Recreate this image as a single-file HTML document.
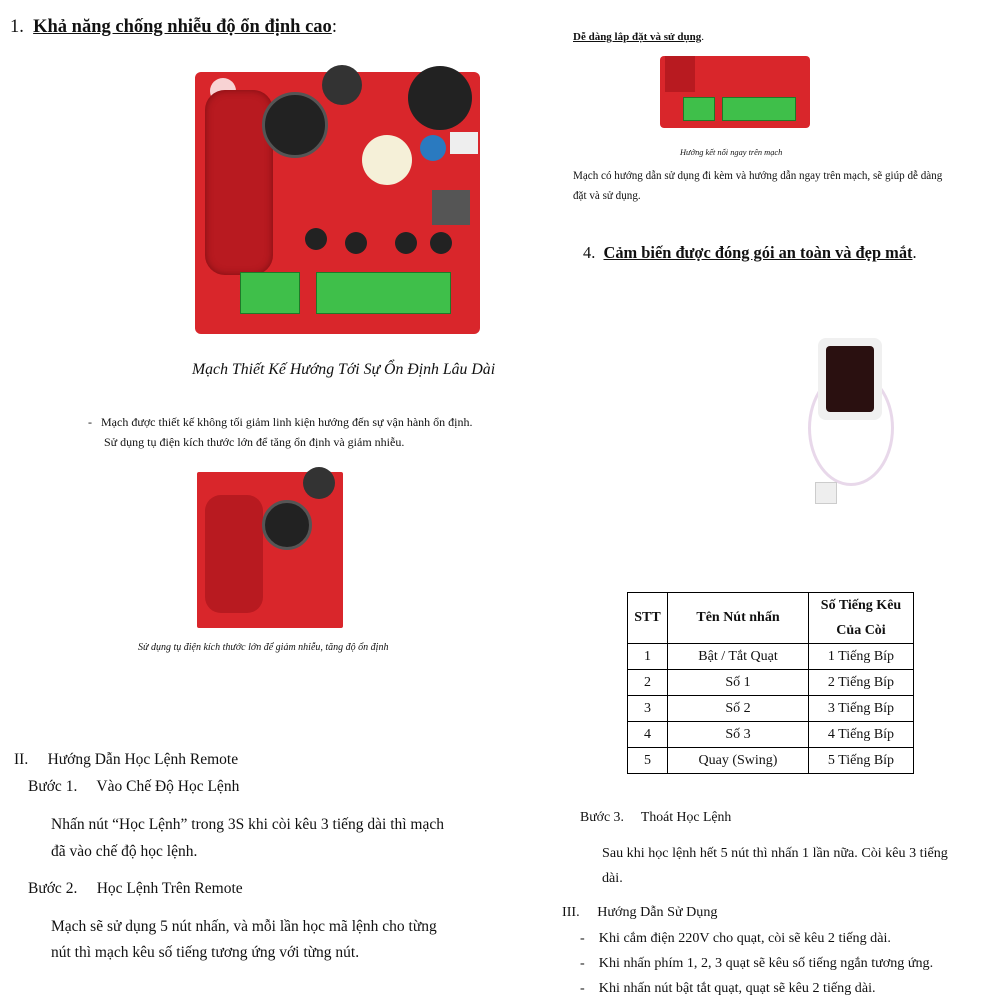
<!DOCTYPE html>
<html><head><meta charset="utf-8"><style>
body{margin:0;width:1000px;height:1000px;background:#fff;position:relative;overflow:hidden;font-family:"Liberation Serif",serif;color:#111}
.t{position:absolute;white-space:nowrap}
.board{position:absolute;background:#d9262b;border-radius:6px}
.g{position:absolute;background:#3fbf4a;border:1px solid #1e7a28}
.c{position:absolute;border-radius:50%}
table{position:absolute;left:627px;top:592px;border-collapse:collapse;font-size:14px}
td{border:1px solid #000;text-align:center;padding:0}
</style></head><body>
<div class="t" style="left:10px;top:17px;font-size:18.5px">1.&nbsp; <b><u>Khả năng chống nhiễu độ ổn định cao</u></b>:</div>

<div class="board" style="left:195px;top:72px;width:285px;height:262px"></div>
<div class="c" style="left:210px;top:78px;width:26px;height:26px;background:#fff;opacity:.8"></div>
<div style="position:absolute;left:205px;top:90px;width:68px;height:185px;background:#b81a20;border-radius:20px;box-shadow:inset 0 0 8px #7a0e12"></div>
<div class="c" style="left:262px;top:92px;width:60px;height:60px;background:#222;border:3px solid #555"></div>
<div class="c" style="left:322px;top:65px;width:40px;height:40px;background:#333"></div>
<div class="c" style="left:408px;top:66px;width:64px;height:64px;background:#222"></div>
<div class="c" style="left:362px;top:135px;width:50px;height:50px;background:#f5f0d8"></div>
<div class="c" style="left:420px;top:135px;width:26px;height:26px;background:#2a7ac0"></div>
<div style="position:absolute;left:450px;top:132px;width:28px;height:22px;background:#eee"></div>
<div style="position:absolute;left:432px;top:190px;width:38px;height:35px;background:#555"></div>
<div class="c" style="left:305px;top:228px;width:22px;height:22px;background:#222"></div>
<div class="c" style="left:345px;top:232px;width:22px;height:22px;background:#222"></div>
<div class="c" style="left:395px;top:232px;width:22px;height:22px;background:#222"></div>
<div class="c" style="left:430px;top:232px;width:22px;height:22px;background:#222"></div>
<div class="g" style="left:240px;top:272px;width:58px;height:40px"></div>
<div class="g" style="left:316px;top:272px;width:133px;height:40px"></div>

<div class="t" style="left:192px;top:361px;font-size:15.8px;font-style:italic">Mạch Thiết Kế Hướng Tới Sự Ổn Định Lâu Dài</div>
<div class="t" style="left:88px;top:415px;font-size:12px">-&nbsp;&nbsp; Mạch được thiết kế không tối giảm linh kiện hướng đến sự vận hành ổn định.</div>
<div class="t" style="left:104px;top:435px;font-size:12px">Sử dụng tụ điện kích thước lớn để tăng ổn định và giảm nhiễu.</div>

<div class="board" style="left:197px;top:472px;width:146px;height:156px;border-radius:2px"></div>
<div style="position:absolute;left:205px;top:495px;width:58px;height:118px;background:#b81a20;border-radius:16px"></div>
<div class="c" style="left:262px;top:500px;width:44px;height:44px;background:#222;border:3px solid #555"></div>
<div class="c" style="left:303px;top:467px;width:32px;height:32px;background:#333"></div>
<div class="t" style="left:138px;top:642px;font-size:10px;font-style:italic">Sử dụng tụ điện kích thước lớn để giảm nhiễu, tăng độ ổn định</div>

<div class="t" style="left:14px;top:751px;font-size:15.5px">II.&nbsp;&nbsp;&nbsp;&nbsp; Hướng Dẫn Học Lệnh Remote</div>
<div class="t" style="left:28px;top:778px;font-size:15.5px">Bước 1.&nbsp;&nbsp;&nbsp;&nbsp; Vào Chế Độ Học Lệnh</div>
<div class="t" style="left:51px;top:816px;font-size:15.5px">Nhấn nút “Học Lệnh” trong 3S khi còi kêu 3 tiếng dài thì mạch</div>
<div class="t" style="left:51px;top:843px;font-size:15.5px">đã vào chế độ học lệnh.</div>
<div class="t" style="left:28px;top:880px;font-size:15.5px">Bước 2.&nbsp;&nbsp;&nbsp;&nbsp; Học Lệnh Trên Remote</div>
<div class="t" style="left:51px;top:918px;font-size:15.5px">Mạch sẽ sử dụng 5 nút nhấn, và mỗi lần học mã lệnh cho từng</div>
<div class="t" style="left:51px;top:944px;font-size:15.5px">nút thì mạch kêu số tiếng tương ứng với từng nút.</div>

<div class="t" style="left:573px;top:31px;font-size:11px"><b><u>Dễ dàng lắp đặt và sử dụng</u></b>.</div>
<div class="board" style="left:660px;top:56px;width:150px;height:72px;border-radius:4px"></div>
<div style="position:absolute;left:665px;top:56px;width:30px;height:36px;background:#b81a20"></div>
<div class="g" style="left:683px;top:97px;width:30px;height:22px"></div>
<div class="g" style="left:722px;top:97px;width:72px;height:22px"></div>
<div class="t" style="left:680px;top:148px;font-size:8.4px;font-style:italic">Hướng kết nối ngay trên mạch</div>
<div class="t" style="left:573px;top:170px;font-size:11.1px">Mạch có hướng dẫn sử dụng đi kèm và hướng dẫn ngay trên mạch, sẽ giúp dễ dàng</div>
<div class="t" style="left:573px;top:190px;font-size:11.1px">đặt và sử dụng.</div>
<div class="t" style="left:583px;top:243px;font-size:16.4px">4.&nbsp; <b><u>Cảm biến được đóng gói an toàn và đẹp mắt</u></b>.</div>

<div class="c" style="left:808px;top:370px;width:80px;height:110px;border:3px solid #e8d8ea;background:transparent"></div>
<div style="position:absolute;left:818px;top:338px;width:64px;height:82px;background:#f0f0f0;border-radius:8px"></div>
<div style="position:absolute;left:826px;top:346px;width:48px;height:66px;background:#2a1010;border-radius:4px"></div>
<div style="position:absolute;left:815px;top:482px;width:20px;height:20px;background:#eee;border:1px solid #ccc"></div>

<table>
<tr style="height:51px"><td style="width:39px"><b>STT</b></td><td style="width:140px"><b>Tên Nút nhấn</b></td><td style="width:104px;line-height:25px"><b>Số Tiếng Kêu<br>Của Còi</b></td></tr>
<tr style="height:26px"><td>1</td><td>Bật / Tắt Quạt</td><td>1 Tiếng Bíp</td></tr>
<tr style="height:26px"><td>2</td><td>Số 1</td><td>2 Tiếng Bíp</td></tr>
<tr style="height:26px"><td>3</td><td>Số 2</td><td>3 Tiếng Bíp</td></tr>
<tr style="height:26px"><td>4</td><td>Số 3</td><td>4 Tiếng Bíp</td></tr>
<tr style="height:26px"><td>5</td><td>Quay (Swing)</td><td>5 Tiếng Bíp</td></tr>
</table>

<div class="t" style="left:580px;top:809px;font-size:13.8px">Bước 3.&nbsp;&nbsp;&nbsp;&nbsp; Thoát Học Lệnh</div>
<div class="t" style="left:602px;top:845px;font-size:14.1px">Sau khi học lệnh hết 5 nút thì nhấn 1 lần nữa. Còi kêu 3 tiếng</div>
<div class="t" style="left:602px;top:870px;font-size:14.1px">dài.</div>
<div class="t" style="left:562px;top:904px;font-size:14.1px">III.&nbsp;&nbsp;&nbsp;&nbsp; Hướng Dẫn Sử Dụng</div>
<div class="t" style="left:580px;top:930px;font-size:14.1px">-&nbsp;&nbsp;&nbsp; Khi cắm điện 220V cho quạt, còi sẽ kêu 2 tiếng dài.</div>
<div class="t" style="left:580px;top:955px;font-size:14.1px">-&nbsp;&nbsp;&nbsp; Khi nhấn phím 1, 2, 3 quạt sẽ kêu số tiếng ngắn tương ứng.</div>
<div class="t" style="left:580px;top:980px;font-size:14.1px">-&nbsp;&nbsp;&nbsp; Khi nhấn nút bật tắt quạt, quạt sẽ kêu 2 tiếng dài.</div>
</body></html>
